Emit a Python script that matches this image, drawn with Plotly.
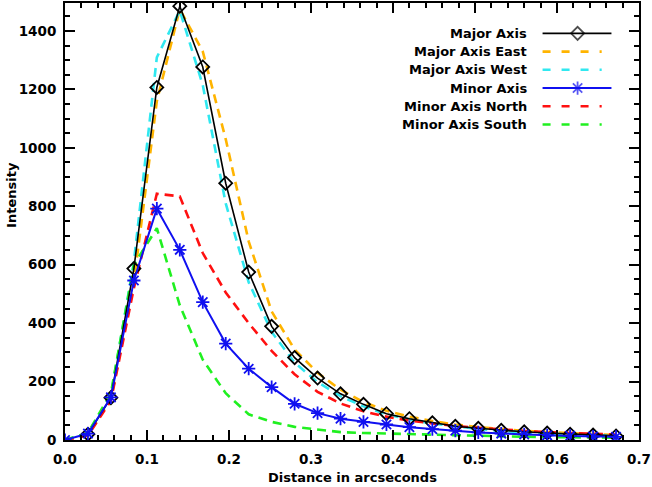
import plotly.graph_objects as go

# ---- data ----
dist = [0.0, 0.028, 0.056, 0.084, 0.112, 0.140, 0.168, 0.196, 0.224, 0.252,
        0.280, 0.308, 0.336, 0.364, 0.392, 0.420, 0.448, 0.476, 0.504, 0.532,
        0.560, 0.588, 0.616, 0.644, 0.672]

major_axis = [None, 20, 145, 587, 1207, 1485, 1277, 879, 575, 389,
              282, 212, 158, 122, 90, 73, 59, 47, 40, 33,
              28, 24, 20, 17, 14]
major_east = [0, 18, 140, 540, 1160, 1475, 1330, 1030, 680, 440,
              310, 230, 172, 130, 100, 80, 65, 53, 44, 37,
              31, 27, 23, 20, 17]
major_west = [0, 22, 152, 610, 1310, 1470, 1215, 810, 540, 370,
              265, 198, 150, 115, 88, 70, 56, 46, 38, 31,
              26, 22, 19, 16, 14]
minor_axis = [0, 22, 146, 546, 792, 651, 472, 330, 244, 181,
              124, 92, 73, 62, 53, 44, 37, 32, 26, 22,
              19, 16, 14, 12, 11]
minor_north = [0, 15, 135, 520, 843, 834, 640, 505, 400, 305,
               225, 165, 125, 98, 80, 66, 57, 48, 42, 36,
               31, 27, 24, 21, 19]
minor_south = [0, 25, 160, 600, 725, 461, 275, 160, 88, 62,
               45, 35, 27, 24, 22, 20, 17, 15, 13, 12,
               11, 10, 9, 8, 8]

legend_names = ["Major Axis", "Major Axis East", "Major Axis West",
                "Minor Axis", "Minor Axis North", "Minor Axis South"]

x_ticks = [0.0, 0.1, 0.2, 0.3, 0.4, 0.5, 0.6, 0.7]
x_tick_text = ["0.0", "0.1", "0.2", "0.3", "0.4", "0.5", "0.6", "0.7"]
y_ticks = [0, 200, 400, 600, 800, 1000, 1200, 1400]

# ---- styles ----
BLACK = "#000000"
ORANGE = "#FFB400"
CYAN = "#30E8F0"
BLUE = "#1010F0"
RED = "#FF1010"
GREEN = "#20F020"
DASH = "9px,6px"
FONT = "DejaVu Sans"

series = [
    (major_axis, BLACK, "solid", 1.6, "diamond-open", 10, legend_names[0]),
    (major_east, ORANGE, DASH, 2.6, None, 0, legend_names[1]),
    (major_west, CYAN, DASH, 2.6, None, 0, legend_names[2]),
    (minor_axis, BLUE, "solid", 2.0, "asterisk-open", 11, legend_names[3]),
    (minor_north, RED, DASH, 2.6, None, 0, legend_names[4]),
    (minor_south, GREEN, DASH, 2.6, None, 0, legend_names[5]),
]

fig = go.Figure()

# draw order: dashed lines under solid lines
order = [1, 2, 4, 5, 0, 3]
for i in order:
    vals, col, dash, lw, sym, ms, name = series[i]
    if sym:
        fig.add_trace(go.Scatter(
            x=dist, y=vals, mode="lines+markers", name=name,
            line=dict(color=col, width=lw, dash=dash),
            marker=dict(symbol=sym, size=ms, color=col,
                        line=dict(color=col, width=1.8)),
            showlegend=False))
    else:
        fig.add_trace(go.Scatter(
            x=dist, y=vals, mode="lines", name=name,
            line=dict(color=col, width=lw, dash=dash),
            showlegend=False))

# ---- manual legend (text left, sample right) on an overlay axis ----
leg_x0, leg_xm, leg_x1 = 0.832, 0.893, 0.952
leg_x1_dash = 0.935
leg_top = 0.9305
leg_step = 0.0417
for i, (vals, col, dash, lw, sym, ms, name) in enumerate(series):
    yy = leg_top - i * leg_step
    if sym:
        fig.add_trace(go.Scatter(
            x=[leg_x0, leg_xm, leg_x1], y=[yy, yy, yy],
            xaxis="x2", yaxis="y2", mode="lines+markers",
            line=dict(color=col, width=lw),
            marker=dict(symbol=sym, size=[0, ms, 0], color=col,
                        line=dict(color=col, width=1.8)),
            showlegend=False, hoverinfo="skip"))
    else:
        fig.add_trace(go.Scatter(
            x=[leg_x0, leg_x1_dash], y=[yy, yy],
            xaxis="x2", yaxis="y2", mode="lines",
            line=dict(color=col, width=lw, dash="8px,11px"),
            showlegend=False, hoverinfo="skip"))
    fig.add_annotation(x=0.808, y=yy, xref="x2", yref="y2", text=name,
                       showarrow=False, xanchor="right", yanchor="middle",
                       font=dict(family=FONT, size=13, color="black", weight="bold"))

axis_common = dict(
    showgrid=False, zeroline=False, showline=True, linecolor="black",
    linewidth=2, mirror="ticks", ticks="inside", tickcolor="black",
    tickwidth=1.5, ticklen=10, automargin=False,
    tickfont=dict(family=FONT, size=13.5, color="black", weight="bold"),
)

fig.update_layout(
    width=652, height=487,
    margin=dict(l=65, r=13, t=3, b=47, autoexpand=False),
    paper_bgcolor="white", plot_bgcolor="white",
    showlegend=False,
    xaxis=dict(range=[0, 0.7], tickvals=x_ticks, ticktext=x_tick_text,
               minor=dict(dtick=0.02, ticklen=5, ticks="inside",
                          tickcolor="black", tickwidth=1.5),
               ticklabelstandoff=6, **axis_common),
    yaxis=dict(range=[0, 1496], tickvals=y_ticks,
               minor=dict(dtick=50, ticklen=5, ticks="inside",
                          tickcolor="black", tickwidth=1.5),
               ticklabelstandoff=4, **axis_common),
    xaxis2=dict(overlaying="x", range=[0, 1], visible=False),
    yaxis2=dict(overlaying="y", range=[0, 1], visible=False),
)

fig.add_annotation(x=0.5, y=-0.064, xref="paper", yref="paper",
                   text="Distance in arcseconds", showarrow=False,
                   xanchor="center", yanchor="top",
                   font=dict(family=FONT, size=13, color="black", weight="bold"))
fig.add_annotation(x=-0.093, y=0.56, xref="paper", yref="paper",
                   text="Intensity", showarrow=False, textangle=-90,
                   xanchor="center", yanchor="middle",
                   font=dict(family=FONT, size=13, color="black", weight="bold"))

fig.write_html("out.html",
               config={"displayModeBar": False},
               post_script="document.body.style.margin='0';"
                           "document.body.style.padding='0';")
